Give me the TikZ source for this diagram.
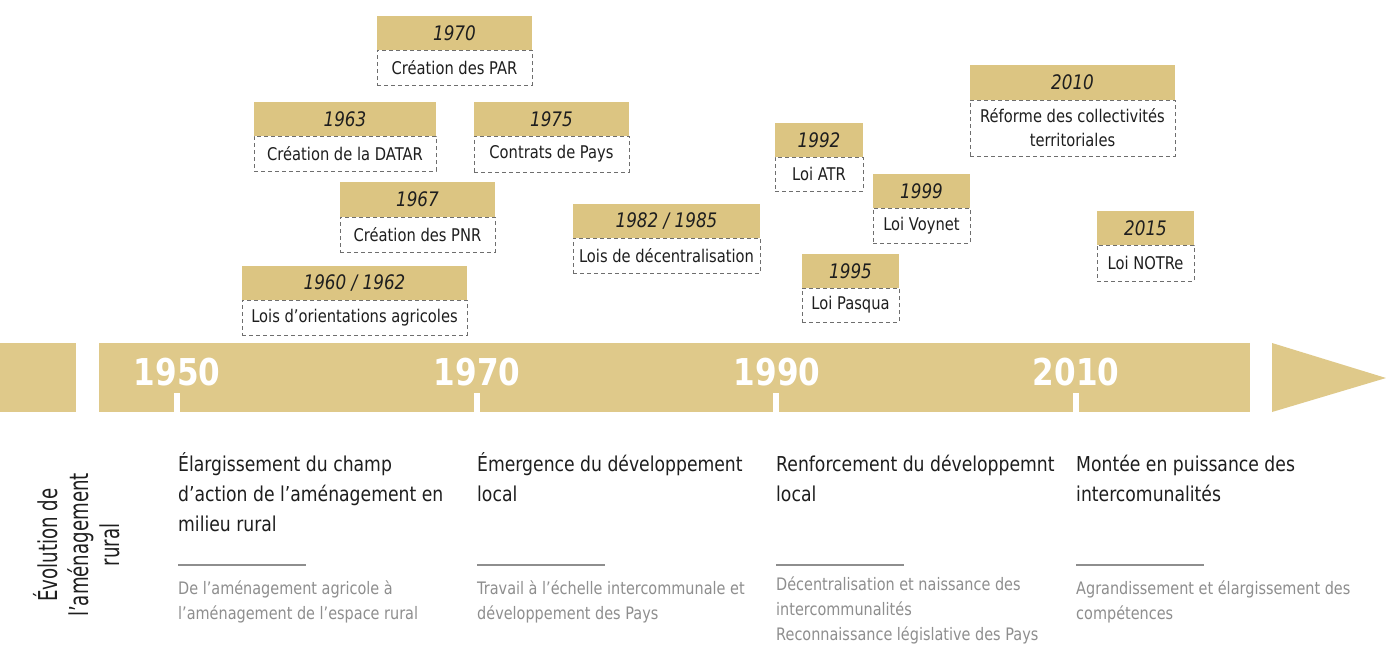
\documentclass[tikz,border=0pt]{standalone}
\usepackage{fontspec}
\setmainfont{DejaVu Sans}[FakeStretch=0.84]
\newfontfamily\narrowfont{DejaVu Sans}[FakeStretch=0.7]
\definecolor{gold}{HTML}{DFC98A}
\definecolor{hdrgold}{HTML}{DCC582}
\definecolor{dash}{HTML}{6E6E6E}
\definecolor{ink}{HTML}{1E1E1E}
\definecolor{soft}{HTML}{8E8E8E}
\newcommand\evbox[8]{%
  \node[hdr, anchor=north west, minimum width={#3-#2}, minimum height={#5-#4}] (#1h) at (#2,#4) {#7};
  \node[bodybox, anchor=north, minimum width={#3-#2}, minimum height={#6-#5}] (#1b) at (#1h.south) {#8};
}
\begin{document}
\begin{tikzpicture}[x=1pt,y=-1pt,
  hdr/.style={fill=hdrgold, inner sep=0pt, outer sep=0pt, font=\fontsize{20}{24}\selectfont\itshape, text=ink},
  bodybox/.style={draw=dash, dash pattern=on 4pt off 3pt, line width=0.9pt, fill=white, inner sep=0pt, outer sep=0pt, align=center, font=\fontsize{17.5}{24}\selectfont, text=ink},
  yearlab/.style={inner sep=0pt, text=white, font=\fontsize{37}{40}\selectfont\bfseries},
  title/.style={inner sep=0pt, anchor=base west, align=left, font=\fontsize{20.5}{30}\selectfont, text=ink},
  desc/.style={inner sep=0pt, anchor=base west, align=left, font=\fontsize{17.2}{25}\selectfont, text=soft},
  sep/.style={draw=soft, line width=1.6pt}]
\useasboundingbox[fill=white] (0,0) rectangle (1386,646);
% timeline bar
\fill[gold] (0,343) rectangle (76,412);
\fill[gold] (99,343) rectangle (1250,412);
\fill[gold] (1272,343) -- (1386,378) -- (1272,412) -- cycle;
\foreach \x in {177,477,776,1076} \fill[white] (\x-3,393) rectangle (\x+3,412);
\node[yearlab] (y1950) at (177,372) {1950};
\node[yearlab] (y1970) at (477,372) {1970};
\node[yearlab] (y1990) at (777,372) {1990};
\node[yearlab] (y2010) at (1076,372) {2010};
% events
\evbox{e70}{377}{532}{16}{50}{85}{1970}{Création des PAR}
\evbox{e63}{254}{436}{102}{136}{171}{1963}{Création de la DATAR}
\evbox{e75}{474}{629}{102}{136}{172}{1975}{Contrats de Pays}
\evbox{e67}{340}{495}{182}{217}{252}{1967}{Création des PNR}
\evbox{e60}{242}{467}{266}{300}{335}{1960 / 1962}{Lois d’orientations agricoles}
\evbox{e82}{573}{760}{204}{238}{273}{1982 / 1985}{Lois de décentralisation}
\evbox{e92}{775}{863}{123}{157}{191}{1992}{Loi ATR}
\evbox{e99}{873}{970}{174}{208}{243}{1999}{Loi Voynet}
\evbox{e95}{802}{899}{254}{288}{322}{1995}{Loi Pasqua}
\evbox{e10}{970}{1175}{65}{100}{156}{2010}{Réforme des collectivités\\territoriales}
\evbox{e15}{1097}{1194}{211}{245}{281}{2015}{Loi NOTRe}
% left label
\node[rotate=90, inner sep=0pt, align=center, font=\narrowfont\fontsize{26}{31}\selectfont, text=ink] (side) at (77,545) {Évolution de\\l’aménagement\\rural};
% columns
\node[title] (t1) at (178,531) {Élargissement du champ\\d’action de l’aménagement en\\milieu rural};
\node[title] (t2) at (477,501) {Émergence du développement\\local};
\node[title] (t3) at (776,501) {Renforcement du développemnt\\local};
\node[title] (t4) at (1076,501) {Montée en puissance des\\intercomunalités};
\foreach \x in {178,477,776,1076} \draw[sep] (\x,565) -- (\x+128,565);
\node[desc] (d1) at (178,619) {De l’aménagement agricole à\\l’aménagement de l’espace rural};
\node[desc] (d2) at (477,619) {Travail à l’échelle intercommunale et\\développement des Pays};
\node[desc] (d3) at (776,640) {Décentralisation et naissance des\\intercommunalités\\Reconnaissance législative des Pays};
\node[desc] (d4) at (1076,619) {Agrandissement et élargissement des\\compétences};
\end{tikzpicture}
\end{document}
